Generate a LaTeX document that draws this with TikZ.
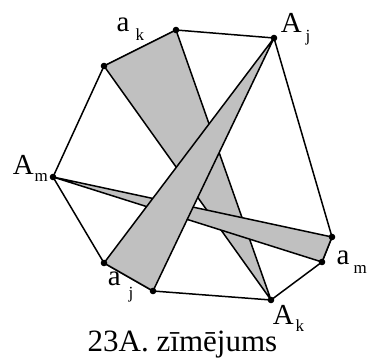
\documentclass[tikz,border=0pt]{standalone}
\usepackage{fontspec}
\setmainfont{Liberation Serif}
\definecolor{shade}{RGB}{192,192,192}
\newcommand{\subfont}{\fontsize{17}{17}\selectfont}
\newcommand{\vlabel}[4]{#1\hspace{#3}\raisebox{-#4}{\subfont #2}}

\begin{document}
\begin{tikzpicture}[x=1pt,y=-1pt,line width=1.5pt,line join=round,
  lbl/.style={inner sep=0pt,anchor=base west,font=\fontsize{29}{29}\selectfont}]
  \useasboundingbox (0,0) rectangle (368,358);
  \coordinate (Am) at (53,177);
  \coordinate (ak1) at (104,66);
  \coordinate (ak2) at (176,30);
  \coordinate (Aj) at (274,38);
  \coordinate (am1) at (332,237);
  \coordinate (am2) at (322,262);
  \coordinate (Ak) at (271,300);
  \coordinate (aj2) at (153,291);
  \coordinate (aj1) at (104,263);
  \draw (Am) -- (ak1) -- (ak2) -- (Aj) -- (am1) -- (am2) -- (Ak) -- (aj2) -- (aj1) -- cycle;
  \filldraw[fill=shade] (ak1) -- (ak2) -- (Ak) -- cycle;
  \filldraw[fill=shade] (Am) -- (am1) -- (am2) -- cycle;
  \filldraw[fill=shade] (Aj) -- (aj1) -- (aj2) -- cycle;
  \foreach \p in {Am,ak1,ak2,Aj,am1,am2,Ak,aj2,aj1}
    \fill (\p) circle (3.3pt);
  \node[lbl] (lak) at (116,32) {\vlabel{a}{k}{6pt}{9pt}};
  \node[lbl] (lAj) at (280,33) {\vlabel{A}{j}{4pt}{9pt}};
  \node[lbl] (lAm) at (12,175) {\vlabel{A}{m}{1pt}{7pt}};
  \node[lbl] (laj) at (107,286) {\vlabel{a}{j}{8pt}{13pt}};
  \node[lbl] (lAk) at (272,325) {\vlabel{A}{k}{2pt}{7pt}};
  \node[lbl] (lam) at (336,265) {\vlabel{a}{m}{4pt}{9pt}};
  \node[lbl,font=\fontsize{31}{31}\selectfont] (cap) at (87,352) {23A. zīmējums};
\end{tikzpicture}
\end{document}
